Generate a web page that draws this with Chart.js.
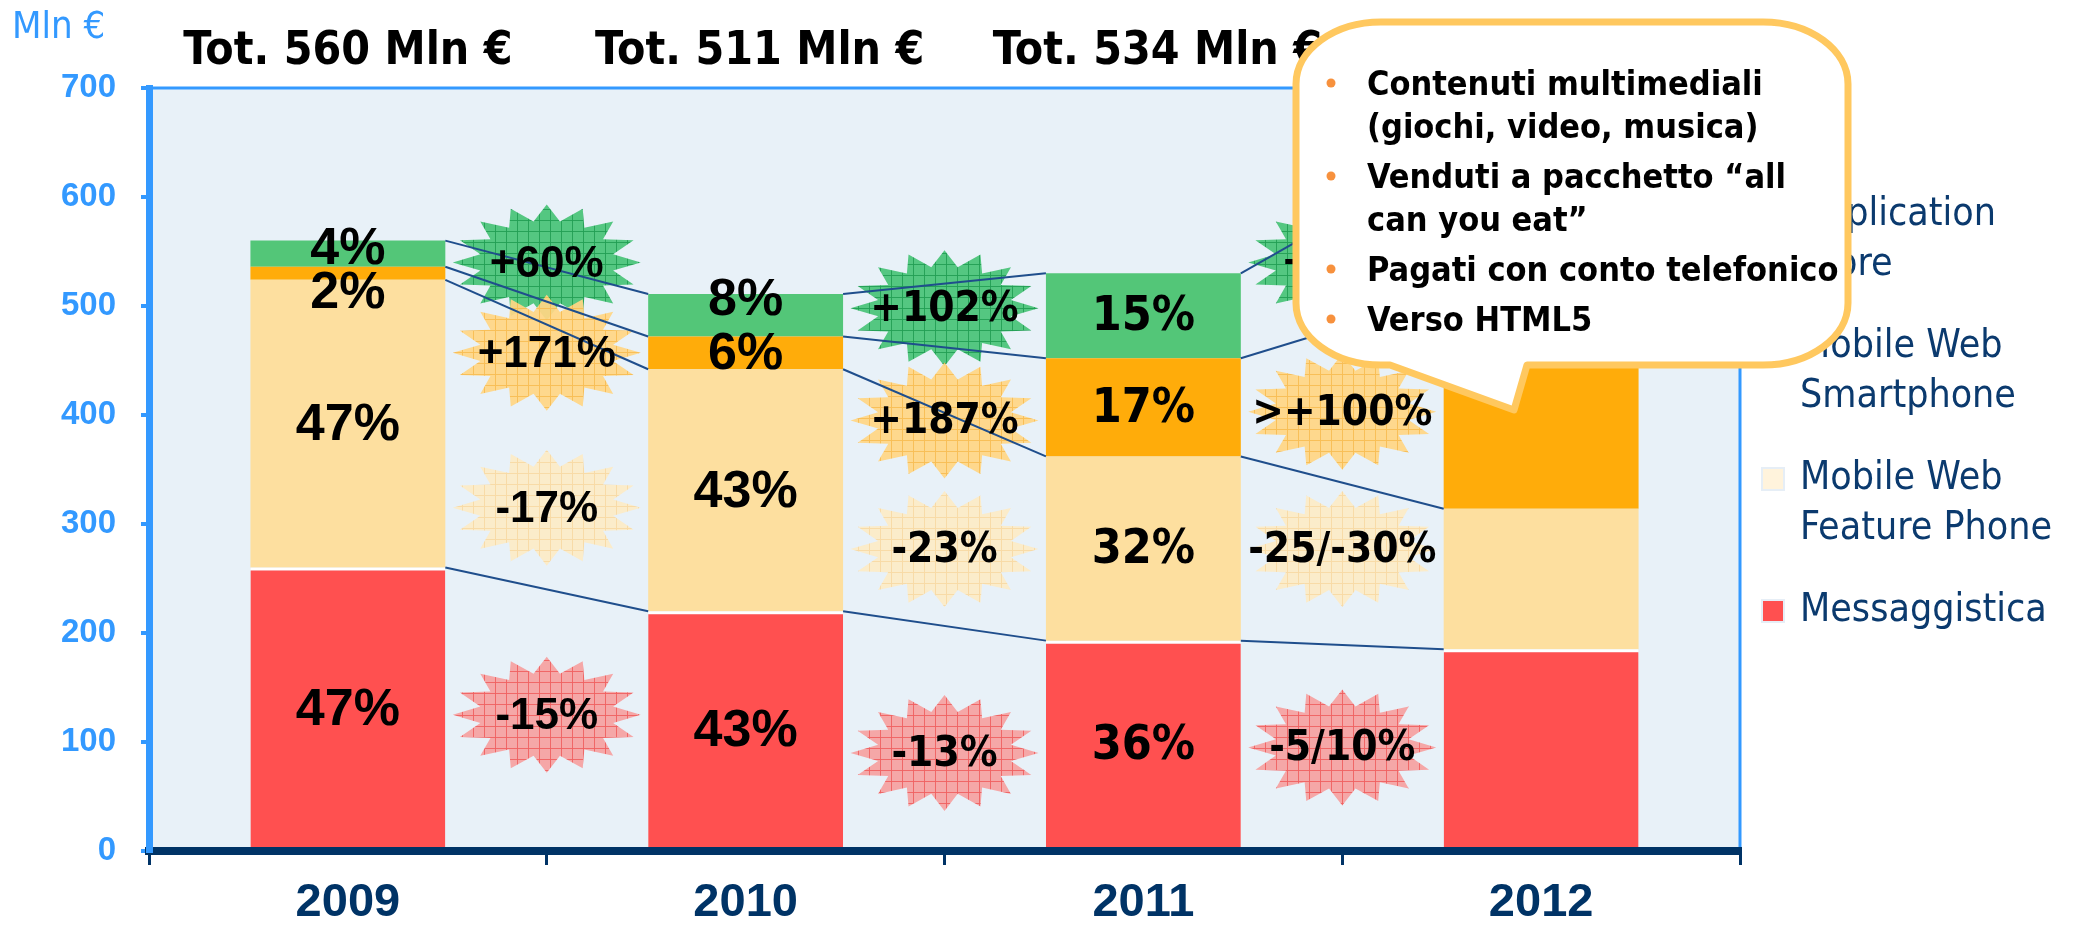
<!DOCTYPE html>
<html>
<head>
<meta charset="utf-8">
<script src="https://cdn.jsdelivr.net/npm/chart.js@4.4.1/dist/chart.umd.min.js"></script>
<style>
  html, body { margin: 0; padding: 0; background: #ffffff; }
  #wrap { width: 2084px; height: 929px; }
</style>
</head>
<body>
<div id="wrap"><canvas id="myChart" width="2084" height="929"></canvas></div>
<script>
// Data (Mln €)
let years = ['2009', '2010', '2011', '2012'];

let messaggistica = [260, 220, 193, 185];
let featurePhone = [264, 222, 169, 129];
let smartphone = [12, 30, 90, 195];
let appStore = [24, 39, 78, 127];

let totals = [560, 511, 534];

// share labels inside the bars (2012 has none)
let shareMess = ['47%', '43%', '36%', ''];
let shareFeature = ['47%', '43%', '32%', ''];
let shareSmart = ['2%', '6%', '17%', ''];
let shareApp = ['4%', '8%', '15%', ''];

// growth between years (2009-10, 2010-11, 2011-12)
let growthMess = ['-15%', '-13%', '-5/10%'];
let growthFeature = ['-17%', '-23%', '-25/-30%'];
let growthSmart = ['+171%', '+187%', '>+100%'];
let growthApp = ['+60%', '+102%', '+60%'];

// value (Mln €) where each growth burst sits
let burstAtMess = [125, 90, 95];
let burstAtFeature = [315, 277, 277];
let burstAtSmart = [457, 395, 403];
let burstAtApp = [540, 498, 540];

let legendLines = [['Messaggistica'], ['Mobile Web', 'Feature Phone'], ['Mobile Web', 'Smartphone'], ['Application', 'Store']];

let calloutItems = [
  ['Contenuti multimediali', '(giochi, video, musica)'],
  ['Venduti a pacchetto \u201call', 'can you eat\u201d'],
  ['Pagati con conto telefonico'],
  ['Verso HTML5']
];

let colors = ['#FF5050', '#FDDF9F', '#FFAC0A', '#53C678'];
let legendColors = ['#FF5050', '#FFF3DC', '#FFAC0A', '#53C678'];

let condensed = '"DejaVu Sans Condensed", "DejaVu Sans", sans-serif';
let arial = '"Liberation Sans", Arial, sans-serif';

let ctx = document.getElementById('myChart').getContext('2d');

function makePattern(base, line) {
  let c = document.createElement('canvas');
  c.width = 11;
  c.height = 11;
  let p = c.getContext('2d');
  p.fillStyle = base;
  p.fillRect(0, 0, 11, 11);
  p.fillStyle = line;
  p.fillRect(0, 0, 11, 1);
  p.fillRect(0, 0, 1, 11);
  return ctx.createPattern(c, 'repeat');
}

let burstFills = [
  makePattern('rgba(246,163,163,0.96)', 'rgba(240,96,96,0.9)'),
  makePattern('rgba(252,235,200,0.96)', 'rgba(248,218,165,0.95)'),
  makePattern('rgba(255,214,132,0.93)', 'rgba(248,190,85,0.95)'),
  makePattern('rgba(76,196,122,0.95)', 'rgba(34,158,84,0.9)')
];

function drawBurst(c, cx, cy, fill) {
  let n = 16, rx = 94, ry = 58, inner = 0.72;
  c.beginPath();
  for (let i = 0; i < n * 2; i++) {
    let a = -Math.PI / 2 + i * Math.PI / n;
    let f = i % 2 == 0 ? 1 : inner;
    let px = cx + Math.cos(a) * rx * f;
    let py = cy + Math.sin(a) * ry * f;
    if (i == 0) c.moveTo(px, py); else c.lineTo(px, py);
  }
  c.closePath();
  c.fillStyle = fill;
  c.fill();
}

// nudges for the crowded small segments (pixels)
let labelNudge = { '3-0': -6, '2-0': 18, '3-1': -17 };

let overlayPlugin = {
  id: 'overlay',
  beforeDraw(chart) {
    let c = chart.ctx, a = chart.chartArea;
    c.save();
    c.fillStyle = '#E8F1F8';
    c.fillRect(a.left, a.top, a.right - a.left, a.bottom - a.top);
    c.strokeStyle = '#3399FF';
    c.lineWidth = 3;
    c.beginPath();
    c.moveTo(a.left, a.top);
    c.lineTo(a.right, a.top);
    c.lineTo(a.right, a.bottom);
    c.stroke();
    c.restore();
  },
  afterDatasetsDraw(chart) {
    let c = chart.ctx;
    let xs = chart.scales.x, ys = chart.scales.y;
    let growth = [growthMess, growthFeature, growthSmart, growthApp];
    let anchors = [burstAtMess, burstAtFeature, burstAtSmart, burstAtApp];
    c.save();

    // bursts, top series first so the lower ones lie over them
    for (let g = 0; g < 3; g++) {
      let cx = (xs.getPixelForValue(g) + xs.getPixelForValue(g + 1)) / 2;
      for (let s = 3; s >= 0; s--) {
        drawBurst(c, cx, ys.getPixelForValue(anchors[s][g]), burstFills[s]);
      }
    }

    // trend lines between segment tops
    c.strokeStyle = '#1F4E8C';
    c.lineWidth = 2;
    for (let s = 0; s < 4; s++) {
      let els = chart.getDatasetMeta(s).data;
      for (let g = 0; g < 3; g++) {
        let e1 = els[g], e2 = els[g + 1];
        c.beginPath();
        c.moveTo(e1.x + e1.width / 2, e1.y);
        c.lineTo(e2.x - e2.width / 2, e2.y);
        c.stroke();
      }
    }

    // growth texts
    c.fillStyle = '#000000';
    c.textAlign = 'center';
    c.textBaseline = 'middle';
    for (let g = 0; g < 3; g++) {
      let cx = (xs.getPixelForValue(g) + xs.getPixelForValue(g + 1)) / 2;
      c.font = g == 0 ? 'bold 44px ' + arial : 'bold 42px ' + condensed;
      for (let s = 0; s < 4; s++) {
        c.fillText(growth[s][g], cx, ys.getPixelForValue(anchors[s][g]) + 2);
      }
    }

    // share labels inside bars
    let shares = [shareMess, shareFeature, shareSmart, shareApp];
    for (let s = 0; s < 4; s++) {
      let els = chart.getDatasetMeta(s).data;
      for (let i = 0; i < els.length; i++) {
        if (!shares[s][i]) continue;
        let e = els[i];
        c.font = i < 2 ? 'bold 52px ' + arial : 'bold 48px ' + condensed;
        let y = (e.y + e.base) / 2 + (labelNudge[s + '-' + i] || 0);
        c.fillText(shares[s][i], e.x, y + 2);
      }
    }
    c.restore();
  },
  afterDraw(chart) {
    let c = chart.ctx;
    c.save();

    // unit label
    c.fillStyle = '#3399FF';
    c.font = '38px ' + condensed;
    c.textAlign = 'left';
    c.textBaseline = 'alphabetic';
    c.fillText('Mln \u20ac', 12, 38);

    // totals above the bars
    c.fillStyle = '#000000';
    c.font = 'bold 46px ' + condensed;
    c.textAlign = 'center';
    let els = chart.getDatasetMeta(0).data;
    for (let i = 0; i < totals.length; i++) {
      c.fillText('Tot. ' + totals[i] + ' Mln \u20ac', els[i].x + (i ? 14 : 0), 64);
    }

    // legend (top entry first)
    c.textAlign = 'left';
    c.textBaseline = 'middle';
    c.font = '39px ' + condensed;
    let y = 215;
    for (let s = 3; s >= 0; s--) {
      c.fillStyle = legendColors[s];
      c.fillRect(1762, y - 11, 22, 22);
      c.strokeStyle = '#E6EEF6';
      c.lineWidth = 2;
      c.strokeRect(1762, y - 11, 22, 22);
      c.fillStyle = '#0B3A6E';
      legendLines[s].forEach((t, k) => c.fillText(t, 1800, y + k * 50));
      y += 132;
    }

    // callout
    let l = 1296, t = 22, r = 1848, b = 365, rx = 85, ry = 62, k = 0.5523;
    c.beginPath();
    c.moveTo(l + rx, t);
    c.lineTo(r - rx, t);
    c.bezierCurveTo(r - rx + rx * k, t, r, t + ry - ry * k, r, t + ry);
    c.lineTo(r, b - ry);
    c.bezierCurveTo(r, b - ry + ry * k, r - rx + rx * k, b, r - rx, b);
    c.lineTo(1527, b);
    c.lineTo(1514, 410);
    c.lineTo(1390, b);
    c.lineTo(l + rx, b);
    c.bezierCurveTo(l + rx - rx * k, b, l, b - ry + ry * k, l, b - ry);
    c.lineTo(l, t + ry);
    c.bezierCurveTo(l, t + ry - ry * k, l + rx - rx * k, t, l + rx, t);
    c.closePath();
    c.fillStyle = '#FFFFFF';
    c.fill();
    c.strokeStyle = '#FFC85F';
    c.lineWidth = 7;
    c.lineJoin = 'round';
    c.stroke();

    c.font = 'bold 34px ' + condensed;
    c.textBaseline = 'alphabetic';
    let ty = 95;
    calloutItems.forEach(item => {
      c.fillStyle = '#F7913D';
      c.beginPath();
      c.arc(1331, ty - 12, 4.5, 0, Math.PI * 2);
      c.fill();
      c.fillStyle = '#000000';
      item.forEach(line => {
        c.fillText(line, 1367, ty);
        ty += 43;
      });
      ty += 7;
    });
    c.restore();
  }
};

new Chart(ctx, {
  type: 'bar',
  data: {
    labels: years,
    datasets: [
      { label: 'Messaggistica', data: messaggistica, backgroundColor: colors[0],
        borderColor: '#FFFFFF', borderWidth: { top: 3, left: 0, right: 0, bottom: 0 } },
      { label: 'Mobile Web Feature Phone', data: featurePhone, backgroundColor: colors[1] },
      { label: 'Mobile Web Smartphone', data: smartphone, backgroundColor: colors[2] },
      { label: 'Application Store', data: appStore, backgroundColor: colors[3] }
    ]
  },
  options: {
    responsive: false,
    animation: false,
    layout: { padding: { left: 0, right: 344, top: 88, bottom: 0 } },
    datasets: { bar: { categoryPercentage: 0.49, barPercentage: 1 } },
    plugins: {
      legend: { display: false },
      tooltip: { enabled: false }
    },
    scales: {
      x: {
        stacked: true,
        grid: { drawOnChartArea: false, offset: true, color: '#003366', lineWidth: 3, tickLength: 14 },
        border: { color: '#003366', width: 8, z: 1 },
        ticks: { color: '#003366', padding: 10,
          font: { family: '"Liberation Sans Narrow", "Liberation Sans", sans-serif', weight: 'bold', size: 47 } },
        afterFit: scale => { scale.height = 78; }
      },
      y: {
        stacked: true,
        min: 0,
        max: 700,
        ticks: { stepSize: 100, color: '#3399FF', padding: 25,
          font: { family: '"Liberation Sans", Arial, sans-serif', weight: 'bold', size: 33 } },
        grid: { drawOnChartArea: false, color: '#3399FF', lineWidth: 4, tickLength: 8 },
        border: { color: '#3399FF', width: 7, z: 1 },
        afterFit: scale => { scale.width = 149; }
      }
    }
  },
  plugins: [overlayPlugin]
});
</script>
</body>
</html>
